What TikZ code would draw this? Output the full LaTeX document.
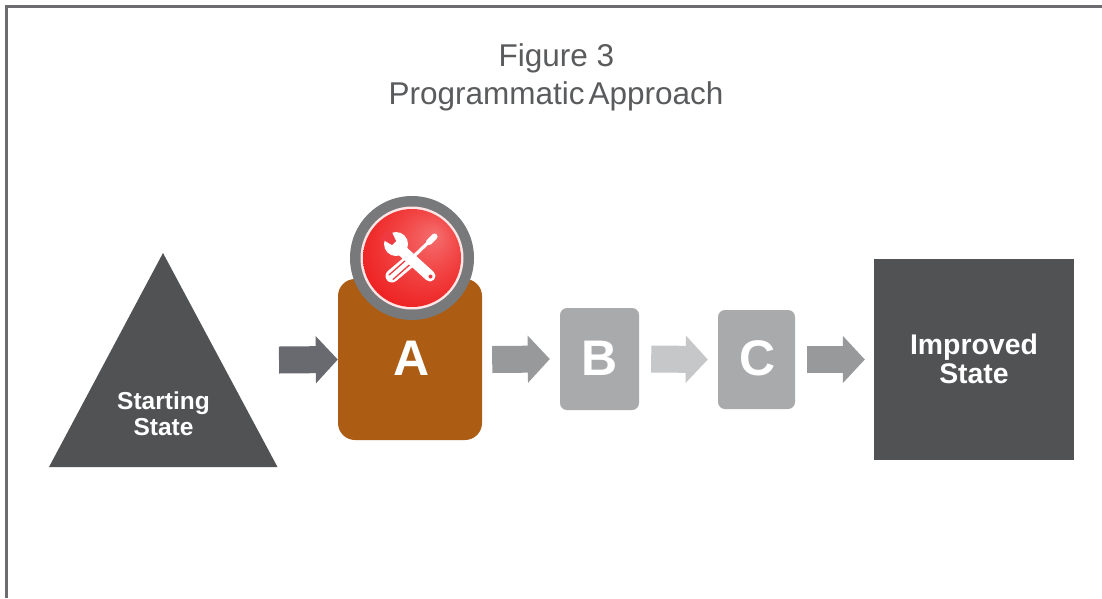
\documentclass[tikz,border=0pt]{standalone}
\usepackage{fontspec}
\setmainfont{Liberation Sans}
\usetikzlibrary{arrows.meta}
\definecolor{framegrey}{HTML}{6C6C70}
\definecolor{titlegrey}{HTML}{5A5B5D}
\definecolor{darkbox}{HTML}{515254}
\definecolor{rust}{HTML}{AD5C14}
\definecolor{paleblock}{HTML}{A9AAAC}
\definecolor{ringgrey}{HTML}{77797B}
\definecolor{arrowa}{HTML}{696A6F}
\definecolor{arrowb}{HTML}{98999B}
\definecolor{arrowc}{HTML}{C6C7C8}
\definecolor{toolred}{HTML}{EE3A40}
\pgfdeclareradialshading{redball}{\pgfpoint{12bp}{12bp}}{%
  color(0bp)=(red!55!white!96!black); color(14bp)=(red!70!white!95!black); color(34bp)=(red!88!white!93!black); color(50bp)=(red!90!black)}
\tikzset{
  blocktext/.style={anchor=base,text=white,font=\bfseries\fontsize{50}{50}\selectfont,inner sep=0pt},
  statetext/.style={anchor=base,text=white,font=\bfseries\fontsize{#1}{#1}\selectfont,inner sep=0pt},
  titletext/.style={anchor=base,text=titlegrey,font=\fontsize{31.5}{38}\selectfont,inner sep=0pt},
  blockarrow/.style={draw=#1,line width=27pt,-{Triangle[length=22pt,width=46pt,fill=#1]}},
}
\begin{document}
\begin{tikzpicture}[x=1pt,y=-1pt]
\useasboundingbox (0,0) rectangle (1102,598);
\fill[white] (0,0) rectangle (1102,598);
% frame (top and left edges only)
\draw[framegrey,line width=3.4pt] (6.5,598) -- (6.5,6.7) -- (1102,6.7);
% title
\node[titletext] (t1) at (556.5,66) {Figure 3};
\node[titletext] (t2) at (556,104) {Programmatic\hspace{0.13em}Approach};
% starting state
\fill[darkbox] (163,253) -- (277.5,467) -- (49,467) -- cycle;
\coordinate (startout) at (279,360);
\node[statetext=24.5] (s1) at (163.5,409) {Starting};
\node[statetext=24.5] (s2) at (163.5,435) {State};
% blocks
\node[fill=rust,rounded corners=17pt,inner sep=0pt,minimum width=144pt,minimum height=161pt] (A) at (410,359.5) {};
\node[fill=paleblock,rounded corners=7pt,inner sep=0pt,minimum width=79pt,minimum height=102pt] (B) at (599.5,359) {};
\node[fill=paleblock,rounded corners=7pt,inner sep=0pt,minimum width=77pt,minimum height=99pt] (C) at (756.5,359.5) {};
\node[fill=darkbox,inner sep=0pt,minimum width=200pt,minimum height=201pt] (I) at (974,359.5) {};
\node[blocktext] (At) at (411.5,375) {A};
\node[blocktext] (Bt) at (599.5,375) {B};
\node[blocktext] (Ct) at (758,375) {C};
\node[statetext=28.4] (i1) at (974,354) {Improved};
\node[statetext=28.4] (i2) at (974,383) {State};
% arrows
\draw[blockarrow=arrowa] (startout) -- (A.west);
\draw[blockarrow=arrowb] ([xshift=10pt]A.east) -- ([xshift=-10pt]B.west);
\draw[blockarrow=arrowc] ([xshift=12pt]B.east) -- ([xshift=-10pt]C.west);
\draw[blockarrow=arrowb] ([xshift=12pt]C.east) -- ([xshift=-9pt]I.west);
% tool badge
\node[circle,fill=ringgrey,inner sep=0pt,minimum size=124pt] (ring) at (412,258) {};
\node[circle,fill=white!90!red,inner sep=0pt,minimum size=103pt] (ringin) at (412,258) {};
\node[circle,shading=redball,inner sep=0pt,minimum size=98pt] (ball) at (412,258) {};
% screwdriver
\draw[white,line width=3.2pt] (435,236) -- (412,258);
\draw[white,line width=6pt,line cap=round] (434.5,236.5) -- (429,242);
\draw[white,line width=13pt,line cap=round] (411,260) -- (392,276);
\draw[toolred,line width=1.3pt,line cap=round] (406,260) -- (389,275);
\draw[toolred,line width=1.3pt,line cap=round] (410,264.5) -- (393,279.5);
% wrench
\draw[white,line width=11pt,line cap=round] (398,247) -- (430,276);
\fill[white] (396,244) circle (12pt);
\fill[toolred] (396,241) -- (392,245) -- (380,238) -- (390,228) -- cycle;
\fill[toolred] (430.5,276.5) circle (2pt);
\end{tikzpicture}
\end{document}
